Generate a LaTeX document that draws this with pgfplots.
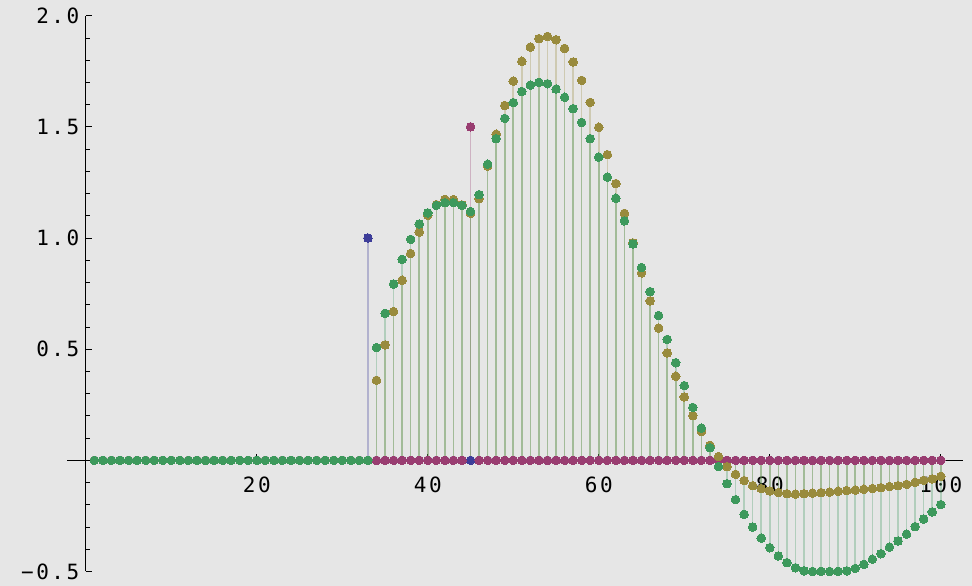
\documentclass[border=0pt]{standalone}
\usepackage{fontspec}
\setmainfont{DejaVu Sans Mono}[LetterSpace=12]
\usepackage{pgfplots}
\usepackage{pgfplotstable}
\pgfplotsset{compat=1.18}
\definecolor{bgc}{HTML}{E6E6E6}
\definecolor{cb}{rgb}{0.24,0.24,0.6}
\definecolor{cp}{rgb}{0.6,0.24,0.442}
\definecolor{co}{rgb}{0.6,0.547,0.24}
\definecolor{cg}{rgb}{0.24,0.6,0.36}
\pgfplotstableread{
x b p o g
1 0 0 0 0
2 0 0 0 0
3 0 0 0 0
4 0 0 0 0
5 0 0 0 0
6 0 0 0 0
7 0 0 0 0
8 0 0 0 0
9 0 0 0 0
10 0 0 0 0
11 0 0 0 0
12 0 0 0 0
13 0 0 0 0
14 0 0 0 0
15 0 0 0 0
16 0 0 0 0
17 0 0 0 0
18 0 0 0 0
19 0 0 0 0
20 0 0 0 0
21 0 0 0 0
22 0 0 0 0
23 0 0 0 0
24 0 0 0 0
25 0 0 0 0
26 0 0 0 0
27 0 0 0 0
28 0 0 0 0
29 0 0 0 0
30 0 0 0 0
31 0 0 0 0
32 0 0 0 0
33 1 0 0 0
34 0 0 0.360 0.507
35 0 0 0.519 0.661
36 0 0 0.669 0.793
37 0 0 0.810 0.904
38 0 0 0.930 0.994
39 0 0 1.027 1.063
40 0 0 1.102 1.113
41 0 0 1.150 1.147
42 0 0 1.174 1.159
43 0 0 1.173 1.159
44 0 0 1.149 1.147
45 0 1.5 1.111 1.119
46 0 0 1.177 1.195
47 0 0 1.324 1.332
48 0 0 1.467 1.447
49 0 0 1.596 1.538
50 0 0 1.706 1.609
51 0 0 1.795 1.659
52 0 0 1.859 1.688
53 0 0 1.897 1.700
54 0 0 1.907 1.694
55 0 0 1.892 1.670
56 0 0 1.853 1.633
57 0 0 1.792 1.582
58 0 0 1.709 1.520
59 0 0 1.610 1.447
60 0 0 1.498 1.364
61 0 0 1.375 1.274
62 0 0 1.245 1.179
63 0 0 1.111 1.077
64 0 0 0.978 0.973
65 0 0 0.843 0.867
66 0 0 0.717 0.759
67 0 0 0.595 0.651
68 0 0 0.483 0.544
69 0 0 0.378 0.439
70 0 0 0.285 0.336
71 0 0 0.201 0.238
72 0 0 0.129 0.145
73 0 0 0.067 0.057
74 0 0 0.017 -0.028
75 0 0 -0.028 -0.105
76 0 0 -0.063 -0.177
77 0 0 -0.091 -0.243
78 0 0 -0.114 -0.300
79 0 0 -0.127 -0.350
80 0 0 -0.138 -0.393
81 0 0 -0.145 -0.430
82 0 0 -0.150 -0.460
83 0 0 -0.152 -0.483
84 0 0 -0.150 -0.497
85 0 0 -0.148 -0.4995
86 0 0 -0.145 -0.4995
87 0 0 -0.143 -0.4995
88 0 0 -0.139 -0.4995
89 0 0 -0.136 -0.497
90 0 0 -0.134 -0.486
91 0 0 -0.130 -0.468
92 0 0 -0.127 -0.445
93 0 0 -0.123 -0.420
94 0 0 -0.118 -0.390
95 0 0 -0.114 -0.363
96 0 0 -0.108 -0.332
97 0 0 -0.099 -0.298
98 0 0 -0.090 -0.264
99 0 0 -0.084 -0.232
100 0 0 -0.072 -0.199
}\data
\begin{document}
\begin{tikzpicture}
\fill[bgc] (0,0) rectangle (972pt,586pt);
\begin{axis}[
  at={(67pt,14.5pt)}, anchor=south west,
  scale only axis, width=896pt, height=555.8pt,
  xmin=-2.2, xmax=102.6, ymin=-0.5, ymax=2.0,
  axis lines=middle,
  every inner x axis line/.append style={-},
  every inner y axis line/.append style={-},
  axis line style={black, line width=1pt},
  xtick={20,40,60,80,100},
  xticklabels={20,40,60,80,100},
  minor xtick={5,10,15,25,30,35,45,50,55,65,70,75,85,90,95},
  ytick={-0.5,0.5,1.0,1.5,2.0},
  yticklabels={−0.5,0.5,1.0,1.5,2.0},
  minor ytick={-0.4,-0.3,-0.2,-0.1,0.1,0.2,0.3,0.4,0.6,0.7,0.8,0.9,1.1,1.2,1.3,1.4,1.6,1.7,1.8,1.9},
  tick align=inside,
  major tick length=6pt, minor tick length=4pt,
  tick style={black, line width=0.8pt},
  /pgf/number format/assume math mode=true,
  tick label style={font=\fontsize{21}{25}\selectfont, text=black},
  xticklabel style={yshift=-13pt},
  yticklabel style={xshift=-3pt},
  clip=true,
]
\addplot[ycomb, no markers, cb, draw opacity=0.3, line width=1.6pt] table[x=x,y=b]{\data};
\addplot[ycomb, no markers, cp, draw opacity=0.3, line width=1.6pt] table[x=x,y=p]{\data};
\addplot[ycomb, no markers, co, draw opacity=0.3, line width=1.6pt] table[x=x,y=o]{\data};
\addplot[ycomb, no markers, cg, draw opacity=0.3, line width=1.6pt] table[x=x,y=g]{\data};
\addplot[only marks, color=cb, mark=*, mark size=4.3pt, mark options={draw=cb, fill=cb, line width=0pt}] table[x=x,y=b]{\data};
\addplot[only marks, color=cp, mark=*, mark size=4.3pt, mark options={draw=cp, fill=cp, line width=0pt}] table[x=x,y=p]{\data};
\addplot[only marks, color=co, mark=*, mark size=4.3pt, mark options={draw=co, fill=co, line width=0pt}] table[x=x,y=o]{\data};
\addplot[only marks, color=cg, mark=*, mark size=4.3pt, mark options={draw=cg, fill=cg, line width=0pt}] table[x=x,y=g]{\data};
\end{axis}
\pgfresetboundingbox
\useasboundingbox (0,0) rectangle (972pt,586pt);
\end{tikzpicture}
\end{document}
